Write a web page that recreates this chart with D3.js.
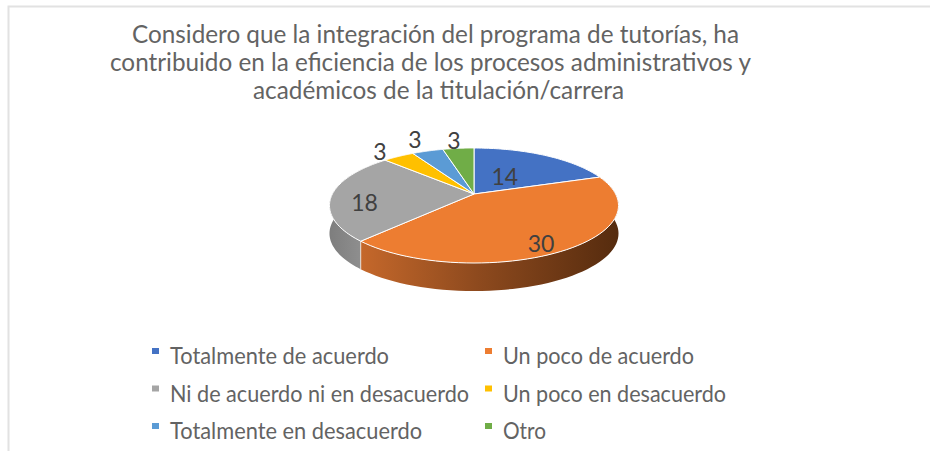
<!DOCTYPE html>
<html>

<head>
  <meta charset="utf-8">
  <title>Programa de tutorías</title>
  <script src="https://d3js.org/d3.v7.min.js"></script>
  <style>
    html, body { margin: 0; padding: 0; background: #fff; overflow: hidden; }
    text { font-family: Lato, "Open Sans", sans-serif; }
  </style>
</head>

<body>
<svg id="chart"></svg>

<script>

  var categories = ["Totalmente de acuerdo", "Un poco de acuerdo", "Ni de acuerdo ni en desacuerdo",
    "Un poco en desacuerdo", "Totalmente en desacuerdo", "Otro"];
  var values = [14, 30, 18, 3, 3, 3];
  var colors = ["#4472C4", "#ED7D31", "#A5A5A5", "#FFC000", "#5B9BD5", "#70AD47"];
  var titleLines = [
    "Considero que la integración del programa de tutorías, ha",
    "contribuido en la eficiencia de los procesos administrativos y",
    "académicos de la titulación/carrera"
  ];

  var width = 930;
  var height = 451;

  var svg = d3.select("#chart")
    .attr("width", width)
    .attr("height", height);

  // frame of the original chart, only top and left show
  svg.append("path")
    .attr("d", "M8.5,451V6.5H930")
    .attr("fill", "none")
    .attr("stroke", "#e2e2e2")
    .attr("stroke-width", 2);

  // title, each line fitted to the width it has in the picture
  var titleX = [132, 110, 253];
  var titleW = [607, 641, 371];
  var titleY = [43, 71, 99];
  svg.selectAll("text.title")
    .data(titleLines).enter()
    .append("text")
    .attr("class", "title")
    .attr("x", (d, i) => titleX[i])
    .attr("y", (d, i) => titleY[i])
    .attr("textLength", (d, i) => titleW[i])
    .attr("lengthAdjust", "spacingAndGlyphs")
    .attr("font-size", 25)
    .attr("fill", "#636363")
    .text(d => d);

  // pie in perspective: the flat disc is projected so the apex sits above the ellipse middle
  var apexX = 474, apexY = 194;
  var spreadX = 141.6, spreadY = 55.2, tilt = 0.2, depth = 28;

  function project(angle, r) {
    var px = Math.sin(angle) * r;
    var pz = -Math.cos(angle) * r;
    var k = 1 - tilt * pz;
    return [apexX + spreadX * px / k, apexY + spreadY * pz / k];
  }

  var pie = d3.pie().sort(null).value(d => d);
  var slices = pie(values);

  function rim(d) {
    var steps = d3.range(0, 61).map(i => d.startAngle + (d.endAngle - d.startAngle) * i / 60);
    return steps.map(a => project(a, 1));
  }

  var line = d3.line();

  var defs = svg.append("defs");
  var orangeSide = defs.append("linearGradient")
    .attr("id", "orangeSide")
    .attr("gradientUnits", "userSpaceOnUse")
    .attr("x1", 360).attr("x2", 620).attr("y1", 0).attr("y2", 0);
  orangeSide.append("stop").attr("offset", 0).attr("stop-color", "#C5682B");
  orangeSide.append("stop").attr("offset", 0.45).attr("stop-color", "#8E4A1E");
  orangeSide.append("stop").attr("offset", 1).attr("stop-color", "#552B0E");

  var grayGrad = defs.append("linearGradient")
    .attr("id", "graySide")
    .attr("gradientUnits", "userSpaceOnUse")
    .attr("x1", 330).attr("x2", 362).attr("y1", 0).attr("y2", 0);
  grayGrad.append("stop").attr("offset", 0).attr("stop-color", "#7E7E7E");
  grayGrad.append("stop").attr("offset", 1).attr("stop-color", "#8F8F8F");

  // outer wall first, the top faces are drawn over what should be hidden
  var sideFill = {1: "url(#orangeSide)", 2: "url(#graySide)"};
  svg.append("g").selectAll("path")
    .data(slices.filter(d => sideFill[d.index])).enter()
    .append("path")
    .attr("fill", d => sideFill[d.index])
    .attr("d", function(d) {
      var top = rim(d);
      var bottom = top.map(p => [p[0], p[1] + depth]).reverse();
      return line(top.concat(bottom)) + "Z";
    });

  // small light seam between orange and gray wall
  var seam = project(slices[1].endAngle, 1);
  svg.append("line")
    .attr("x1", seam[0]).attr("x2", seam[0])
    .attr("y1", seam[1]).attr("y2", seam[1] + depth)
    .attr("stroke", "#e8dcd2")
    .attr("stroke-width", 1);

  svg.append("g").selectAll("path")
    .data(slices).enter()
    .append("path")
    .attr("fill", d => colors[d.index])
    .attr("stroke", "#fff")
    .attr("stroke-width", 1)
    .attr("stroke-linejoin", "round")
    .attr("d", d => line([[apexX, apexY]].concat(rim(d))) + "Z");

  // data labels: radius along the slice middle, and a small vertical nudge
  var labelR = [0.4, 0.76, 0.77, 1.3, 1.34, 1.36];
  var labelNudge = [0, 9, 8, 5, 0, 5];
  svg.append("g").selectAll("text")
    .data(slices).enter()
    .append("text")
    .attr("x", d => project((d.startAngle + d.endAngle) / 2, labelR[d.index])[0])
    .attr("y", d => project((d.startAngle + d.endAngle) / 2, labelR[d.index])[1] + labelNudge[d.index])
    .attr("dy", "0.36em")
    .attr("text-anchor", "middle")
    .attr("font-size", 23)
    .attr("fill", "#404040")
    .text(d => d.value);

  // legend, two columns and three rows
  var legendCol = d3.scaleOrdinal().domain([0, 1]).range([152, 485]);
  var legendRow = d3.scalePoint().domain([0, 1, 2]).range([364, 439]);
  var legendW = [219, 191, 299, 223, 252, 43];

  var legend = svg.append("g").selectAll("g")
    .data(categories).enter()
    .append("g")
    .attr("transform", (d, i) => "translate(" + legendCol(i % 2) + "," + legendRow(Math.floor(i / 2)) + ")");

  legend.append("rect")
    .attr("y", -16)
    .attr("width", 7)
    .attr("height", 6)
    .attr("fill", (d, i) => colors[i]);

  legend.append("text")
    .attr("x", 18)
    .attr("textLength", (d, i) => legendW[i])
    .attr("lengthAdjust", "spacingAndGlyphs")
    .attr("font-size", 22.5)
    .attr("fill", "#636363")
    .text(d => d);

</script>
</body>

</html>
